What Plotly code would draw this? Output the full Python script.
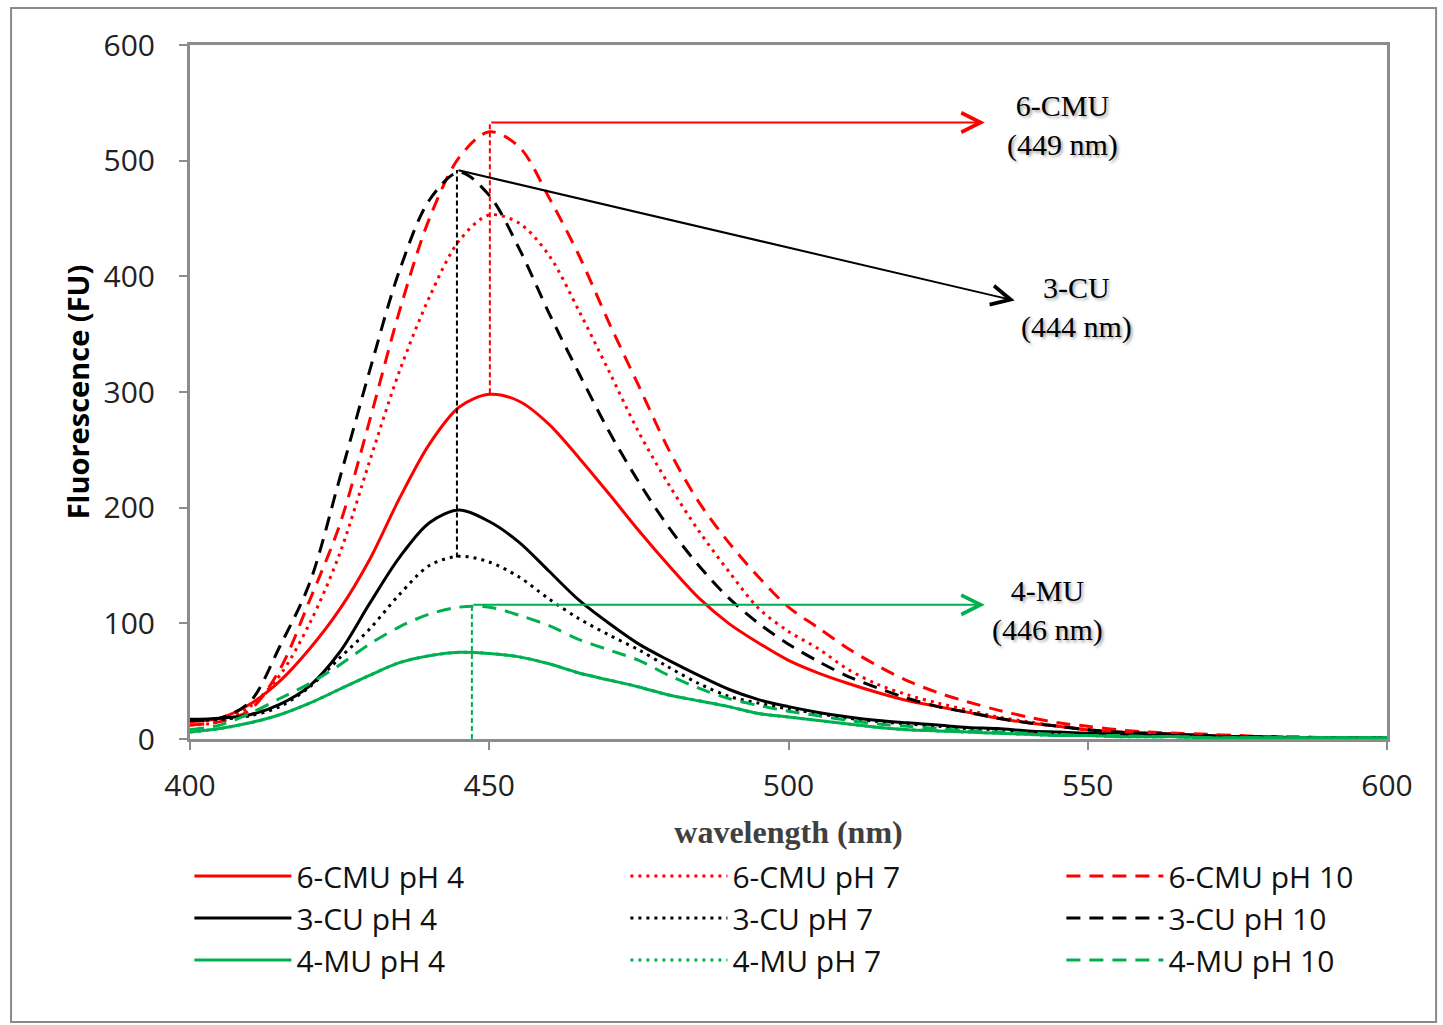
import plotly.graph_objects as go

# ---------------- data ----------------
wavelength = list(range(400, 601, 5))

cmu_ph4 = [15, 18, 30, 50, 78, 112, 155, 208, 255, 287, 298, 292, 272, 243, 212, 180, 150, 122, 100, 83,
           68, 57, 48, 40, 33, 28, 23, 18, 14, 11, 8, 6, 5, 4, 3, 2, 2, 1, 1, 1, 1]
cmu_ph7 = [12, 15, 28, 55, 100, 160, 240, 318, 382, 431, 453, 446, 418, 370, 318, 265, 220, 180, 145, 113,
           93, 78, 60, 47, 38, 31, 25, 19, 15, 11, 8, 6, 5, 4, 3, 2, 2, 1, 1, 1, 1]
cmu_ph10 = [12, 15, 25, 60, 120, 185, 275, 370, 450, 503, 525, 512, 468, 418, 360, 305, 250, 205, 170, 140,
            114, 96, 78, 63, 50, 40, 32, 25, 19, 14, 11, 8, 6, 5, 4, 3, 2, 2, 1, 1, 1]
cu_ph4 = [17, 18, 21, 30, 46, 75, 117, 157, 187, 198, 188, 170, 145, 120, 100, 82, 68, 55, 43, 34,
          28, 23, 19, 16, 14, 12, 10, 9, 7, 6, 5, 4, 3, 3, 2, 2, 1, 1, 1, 1, 1]
cu_ph7 = [16, 17, 20, 28, 45, 70, 95, 125, 150, 158, 153, 140, 121, 104, 90, 77, 62, 48, 37, 31,
          26, 22, 18, 15, 13, 11, 9, 8, 6, 5, 4, 3, 3, 2, 2, 1, 1, 1, 1, 1, 1]
cu_ph10 = [16, 18, 32, 80, 135, 225, 318, 405, 466, 490, 470, 424, 368, 316, 266, 222, 183, 150, 122, 100,
           82, 67, 54, 44, 35, 28, 23, 18, 14, 11, 8, 6, 5, 4, 3, 2, 2, 1, 1, 1, 1]
mu_ph4 = [6, 9, 14, 21, 31, 43, 55, 66, 72, 75, 74, 71, 65, 57, 51, 45, 38, 33, 28, 22,
          19, 16, 13, 10, 8, 7, 6, 5, 4, 3, 3, 2, 2, 2, 1, 1, 1, 1, 1, 1, 1]
mu_ph7 = [6, 9, 14, 21, 31, 43, 55, 66, 72, 75, 74, 71, 65, 57, 51, 45, 38, 33, 28, 22,
          19, 16, 13, 10, 8, 7, 6, 5, 4, 3, 3, 2, 2, 2, 1, 1, 1, 1, 1, 1, 1]
mu_ph10 = [8, 12, 22, 35, 48, 64, 82, 97, 108, 114, 114, 107, 98, 86, 77, 68, 55, 44, 35, 29,
           24, 20, 16, 13, 11, 9, 7, 6, 5, 4, 3, 3, 2, 2, 1, 1, 1, 1, 1, 1, 1]

series_names = ["6-CMU pH 4", "6-CMU pH 7", "6-CMU pH 10",
                "3-CU pH 4", "3-CU pH 7", "3-CU pH 10",
                "4-MU pH 4", "4-MU pH 7", "4-MU pH 10"]
series_values = [cmu_ph4, cmu_ph7, cmu_ph10, cu_ph4, cu_ph7, cu_ph10, mu_ph4, mu_ph7, mu_ph10]

# peak markers (guide lines): x position, top, bottom, arrow head, label
guide_x = [450.1, 444.6, 447.1]
guide_top = [533, 492, 116]
guide_bottom = [299, 157, 0]
arrow_head_x = [532.8, 537.8, 532.8]
arrow_head_y = [533, 379, 116]
label_x = [545.7, 548.2, 543.2]
label_y = [530, 373, 111]
label_text = ["6-CMU<br>(449 nm)", "3-CU<br>(444 nm)", "4-MU<br>(446 nm)"]

x_ticks = [400, 450, 500, 550, 600]
y_ticks = [0, 100, 200, 300, 400, 500, 600]

# ---------------- styles ----------------
RED, BLACK, GREEN = "#FF0000", "#000000", "#00B050"
colors = [RED, RED, RED, BLACK, BLACK, BLACK, GREEN, GREEN, GREEN]
dashes = ["solid", "3px,5px", "14px,9px"] * 3
legend_widths = [324, 324, 190] * 3
guide_colors = [RED, BLACK, GREEN]

fig = go.Figure()
for name, vals, col, dsh, lw in zip(series_names, series_values, colors, dashes, legend_widths):
    fig.add_trace(go.Scatter(
        x=wavelength, y=vals, name=name, mode="lines", legendwidth=lw,
        line=dict(color=col, width=3, dash=dsh, shape="spline", smoothing=0.9),
    ))

shapes = []
annotations = []
for gx, gt, gb, hx, hy, c, lx, ly, lt in zip(guide_x, guide_top, guide_bottom,
                                             arrow_head_x, arrow_head_y, guide_colors,
                                             label_x, label_y, label_text):
    shapes.append(dict(type="line", xref="x", yref="y", x0=gx, x1=gx, y0=gb, y1=gt,
                       line=dict(color=c, width=2, dash="5px,3px")))
    annotations.append(dict(x=hx, y=hy, ax=gx, ay=gt, xref="x", yref="y", axref="x", ayref="y",
                            text="", showarrow=True, arrowhead=5, arrowsize=1.9, arrowwidth=2,
                            arrowcolor=c, standoff=0, startstandoff=0))
    annotations.append(dict(x=lx, y=ly, xref="x", yref="y", text=lt, showarrow=False,
                            align="center",
                            font=dict(family="Liberation Serif", size=30, color="#000000",
                                      shadow="2px 2px 3px rgba(0,0,0,0.35)")))

# outer frame around the whole chart
shapes.append(dict(type="rect", xref="paper", yref="paper",
                   x0=-0.1495, x1=1.041, y0=-0.4078, y1=1.0533,
                   line=dict(color="#8a8a8a", width=2), fillcolor="rgba(0,0,0,0)", layer="below"))

axis_common = dict(showgrid=False, zeroline=False, showline=True, mirror=True,
                   linecolor="#8c8c8c", linewidth=3, ticks="outside", ticklen=8,
                   tickwidth=2, tickcolor="#8c8c8c",
                   tickfont=dict(family="Open Sans", size=30, color="#222222"))

fig.update_layout(
    width=1443, height=1025,
    margin=dict(l=190, r=56, t=45, b=286),
    paper_bgcolor="white", plot_bgcolor="white",
    showlegend=True,
    legend=dict(orientation="h", x=-0.0005, xanchor="left", y=-0.16, yanchor="top",
                entrywidth=324, entrywidthmode="pixels", itemwidth=97,
                font=dict(family="Open Sans", size=30, color="#111111"),
                bgcolor="rgba(0,0,0,0)", traceorder="normal"),
    shapes=shapes,
    annotations=annotations,
)
fig.update_xaxes(range=[400, 600], tickvals=x_ticks, ticktext=[str(v) for v in x_ticks],
                 ticklabelstandoff=10,
                 title=dict(text="<b>wavelength (nm)</b>", standoff=17,
                            font=dict(family="Liberation Serif", size=32, color="#404040")),
                 **axis_common)
fig.update_yaxes(range=[0, 600], tickvals=y_ticks, ticktext=[str(v) for v in y_ticks],
                 ticklabelstandoff=18,
                 title=dict(text="<b>Fluorescence (FU)</b>", standoff=6,
                            font=dict(family="Open Sans", size=29, color="#000000")),
                 **axis_common)

fig.write_html("out.html")
